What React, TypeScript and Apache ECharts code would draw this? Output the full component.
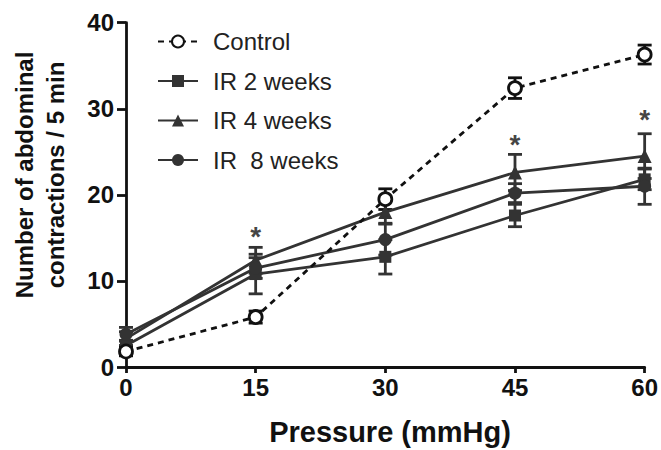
import React, { useEffect, useRef } from 'react';
import * as echarts from 'echarts';

const pressures = [0, 15, 30, 45, 60];
const yTicks = [0, 10, 20, 30, 40];
const seriesNames = ['Control', 'IR 2 weeks', 'IR 4 weeks', 'IR  8 weeks'];
const controlMean = [1.8, 5.8, 19.5, 32.4, 36.3];
const controlErr = [0.5, 0.7, 1.2, 1.2, 1.1];
const ir2Mean = [2.5, 10.8, 12.8, 17.6, 21.8];
const ir2Err = [0.6, 2.3, 2.0, 1.3, 1.2];
const ir4Mean = [3.3, 12.4, 18.0, 22.6, 24.5];
const ir4Err = [0.8, 1.5, 1.3, 2.1, 2.6];
const ir8Mean = [3.8, 11.5, 14.8, 20.2, 21.0];
const ir8Err = [0.8, 1.2, 1.8, 1.1, 2.1];
const starX = [15, 45, 60];
const starY = [15.2, 25.9, 28.8];

const FONT = "'Liberation Sans', Arial, Helvetica, sans-serif";
const DARK = '#333333';
const BLACK = '#111111';

function errData(mean: number[], err: number[]) {
  return pressures.map((p, i) => [p, mean[i] - err[i], mean[i] + err[i]]);
}

function errSeries(name: string, mean: number[], err: number[], color: string) {
  return {
    type: 'custom',
    name,
    silent: true,
    z: 1,
    encode: { x: 0, y: [1, 2] },
    data: errData(mean, err),
    renderItem: (_params: any, api: any) => {
      const x = api.value(0);
      const lo = api.coord([x, api.value(1)]);
      const hi = api.coord([x, api.value(2)]);
      const w = 7;
      const style = { stroke: color, lineWidth: 2.8 };
      return {
        type: 'group',
        children: [
          { type: 'line', shape: { x1: lo[0], y1: lo[1], x2: hi[0], y2: hi[1] }, style },
          { type: 'line', shape: { x1: lo[0] - w, y1: lo[1], x2: lo[0] + w, y2: lo[1] }, style },
          { type: 'line', shape: { x1: hi[0] - w, y1: hi[1], x2: hi[0] + w, y2: hi[1] }, style },
        ],
      };
    },
  };
}

function lineSeries(name: string, mean: number[], symbol: string, size: number) {
  return {
    type: 'line',
    name,
    z: 3,
    data: pressures.map((p, i) => [p, mean[i]]),
    symbol,
    symbolSize: size,
    lineStyle: { color: DARK, width: 2.8 },
    itemStyle: { color: DARK, borderColor: DARK, borderWidth: 0 },
  };
}

export default function App() {
  const ref = useRef<HTMLDivElement>(null);
  useEffect(() => {
    if (!ref.current) return;
    const chart = echarts.init(ref.current, null, { renderer: 'svg' });
    chart.setOption({
      animation: false,
      backgroundColor: '#ffffff',
      grid: { left: 126, right: 14, top: 22.7, bottom: 83, containLabel: false },
      legend: {
        data: seriesNames,
        orient: 'vertical',
        left: 152,
        top: 24,
        itemWidth: 40,
        itemHeight: 15,
        itemGap: 14.5,
        textStyle: { fontFamily: FONT, fontSize: 24, color: '#222', lineHeight: 25, padding: [0, 0, 0, 10] },
      },
      xAxis: {
        type: 'value',
        min: 0,
        max: 60,
        interval: 15,
        splitLine: { show: false },
        axisLine: { lineStyle: { color: BLACK, width: 2.8 } },
        axisTick: { length: 6, lineStyle: { color: BLACK, width: 2.8 } },
        axisLabel: { margin: 8, fontFamily: FONT, fontSize: 24, fontWeight: 'bold', color: BLACK },
      },
      yAxis: {
        type: 'value',
        min: 0,
        max: 40,
        interval: 10,
        splitLine: { show: false },
        axisLine: { show: true, lineStyle: { color: BLACK, width: 2.8 } },
        axisTick: { show: true, length: 9, lineStyle: { color: BLACK, width: 2.8 } },
        axisLabel: { margin: 12, fontFamily: FONT, fontSize: 24, fontWeight: 'bold', color: BLACK,
          formatter: (v: number) => (yTicks.includes(v) ? String(v) : '') },
      },
      graphic: [
        {
          type: 'text',
          x: 40,
          y: 175,
          rotation: Math.PI / 2,
          style: {
            text: 'Number of abdominal\ncontractions / 5 min',
            font: `bold 24px ${FONT}`,
            fill: BLACK,
            align: 'center',
            verticalAlign: 'middle',
            lineHeight: 31,
          },
        },
        {
          type: 'text',
          x: 390,
          y: 432,
          style: {
            text: 'Pressure (mmHg)',
            font: `bold 29px ${FONT}`,
            fill: BLACK,
            align: 'center',
            verticalAlign: 'middle',
          },
        },
      ],
      series: [
        errSeries('err-ir2', ir2Mean, ir2Err, DARK),
        errSeries('err-ir4', ir4Mean, ir4Err, DARK),
        errSeries('err-ir8', ir8Mean, ir8Err, DARK),
        errSeries('err-control', controlMean, controlErr, BLACK),
        lineSeries(seriesNames[1], ir2Mean, 'rect', 12),
        lineSeries(seriesNames[2], ir4Mean, 'triangle', 14),
        lineSeries(seriesNames[3], ir8Mean, 'circle', 13),
        {
          type: 'line',
          name: seriesNames[0],
          z: 4,
          data: pressures.map((p, i) => [p, controlMean[i]]),
          symbol: 'circle',
          symbolSize: 13,
          lineStyle: { color: BLACK, width: 2.8, type: [6, 5] },
          itemStyle: { color: '#ffffff', borderColor: BLACK, borderWidth: 2.8 },
        },
        {
          type: 'scatter',
          name: 'stars',
          silent: true,
          z: 5,
          symbol: 'circle',
          symbolSize: 2,
          itemStyle: { color: 'rgba(0,0,0,0)' },
          data: starX.map((x, i) => [x, starY[i]]),
          label: { show: true, position: 'inside', formatter: '*', fontFamily: FONT, fontSize: 28,
            fontWeight: 'bold', color: BLACK, textBorderWidth: 0, textBorderColor: 'transparent' },
        },
      ],
    });
    return () => chart.dispose();
  }, []);
  return <div ref={ref} style={{ position: 'absolute', left: 0, top: 0, width: 661, height: 450 }} />;
}
